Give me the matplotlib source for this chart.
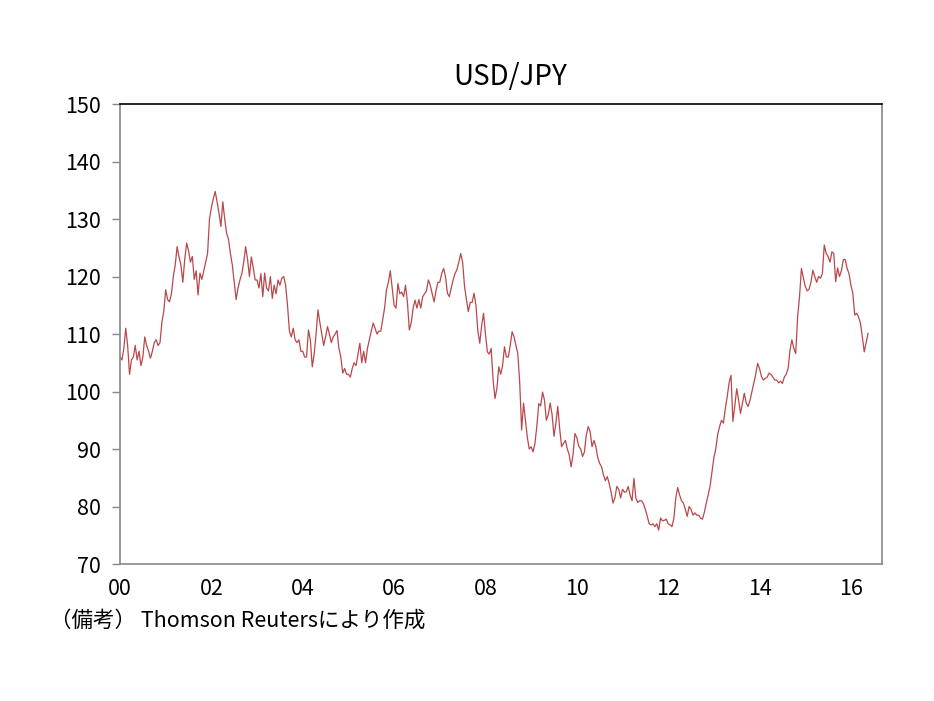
import matplotlib
matplotlib.use("Agg")
import matplotlib.pyplot as plt
import numpy as np

plt.rcParams['font.family'] = ['Noto Sans CJK JP', 'DejaVu Sans']

# USD/JPY, semi-monthly readings (24 per year), 2000 - May 2016
y2000 = [106, 105.5, 107.5, 111, 108, 103, 105.5, 106, 108, 105.5, 107, 104.5,
         106, 109.5, 108, 107, 105.8, 107, 108.5, 109, 108, 108.5, 112, 114]
y2001 = [117.7, 116, 115.6, 117, 120, 122, 125.2, 123.4, 122, 119, 123, 125.8,
         124.5, 122.5, 123.5, 119.5, 121, 116.8, 120.6, 119.5, 121, 122.5, 124, 130]
y2002 = [132, 133.5, 134.8, 133, 131, 128.7, 133, 130, 127.5, 126.5, 124, 122,
         119, 116, 118, 119.4, 120.5, 122.5, 125.2, 123, 120, 123.4, 121.5, 119.4]
y2003 = [119.4, 118, 120.5, 116.5, 120.6, 118, 117.5, 120, 116.2, 118.5, 117, 119.4,
         118.5, 119.7, 120, 118.5, 115, 110.5, 109.5, 111, 109, 108.5, 109, 107]
y2004 = [107, 106, 106, 110.7, 109, 104.3, 106.5, 110, 114.2, 112, 110, 108,
         109.5, 111.3, 110, 108.5, 109.5, 110, 110.6, 107.5, 106, 103.2, 104, 103]
y2005 = [103, 102.5, 104, 105, 104.5, 106.5, 108.4, 105, 107, 105, 107.5, 109,
         110.5, 111.9, 111, 110, 110.5, 110.5, 112.5, 114.5, 117.7, 119, 121, 118]
y2006 = [115, 114.5, 118.8, 117, 117.3, 116.5, 118.5, 115.5, 110.7, 112, 114.5, 115.9,
         114.5, 116, 114.5, 116.5, 117, 117.5, 119.4, 118.5, 117, 115.6, 117.5, 119]
y2007 = [119, 120.5, 121.4, 120, 117.1, 116.5, 118, 119.4, 120.5, 121.2, 122.5, 124,
         122.5, 118.3, 116, 113.9, 115.5, 115.5, 117.1, 115, 110.5, 108.4, 111.5, 113.6]
y2008 = [110, 106.9, 106.5, 107.5, 102, 98.8, 100.5, 104.3, 103, 104.5, 107.8, 106,
         106, 108, 110.4, 109.5, 108, 106.6, 101.5, 93.3, 98, 95, 92, 90]
y2009 = [90.4, 89.5, 91, 94, 97.9, 97.5, 99.9, 98.5, 95, 96, 98, 96,
         92.2, 94.5, 97.4, 93.5, 90.4, 91, 91.5, 90, 89, 86.9, 89, 92.7]
y2010 = [92, 90.5, 90, 88.7, 89.5, 92.5, 93.9, 93, 90.4, 91.5, 90.4, 88.5,
         87.5, 86.9, 85.5, 84.5, 85.2, 84, 82.5, 80.6, 81.5, 83.5, 83, 81.5]
y2011 = [83, 82.5, 82.6, 83.5, 82, 81, 84.9, 81.5, 80.7, 81, 81, 80.5,
         79.5, 78.3, 77, 76.8, 77, 76.5, 77, 75.9, 78, 77.5, 77.6, 77.8]
y2012 = [77, 76.8, 76.5, 78, 81.5, 83.3, 82, 81, 80.6, 79.5, 78.3, 80,
         79.5, 78.5, 78.9, 78.5, 78.5, 78, 77.8, 79, 80.6, 82, 83.5, 86]
y2013 = [88.5, 90, 92.5, 93.9, 95, 94.5, 97, 99.1, 101.5, 102.8, 94.8, 97.5,
         100.5, 98.5, 96.2, 98, 99.7, 98, 97.4, 98.5, 100, 101.5, 103, 104.9]
y2014 = [104, 102.6, 102, 102.3, 102.5, 103.2, 103, 102.5, 102, 102, 101.5, 101.8,
         101.4, 102.5, 103, 104, 107.2, 109, 107.5, 106.6, 113, 116.5, 121.4, 119.8]
y2015 = [118.3, 117.5, 117.8, 119, 121.1, 120, 119, 120, 119.7, 120.5, 125.5, 124,
         123.5, 122.5, 124.3, 124, 119.1, 121.5, 120, 121, 122.9, 123, 121.4, 120.5]
y2016 = [118.5, 117.1, 113.3, 113.6, 113, 111.9, 109.5, 106.9, 108.5, 110.1]

rate = np.array(y2000 + y2001 + y2002 + y2003 + y2004 + y2005 + y2006 + y2007 +
                y2008 + y2009 + y2010 + y2011 + y2012 + y2013 + y2014 + y2015 + y2016)
t = np.arange(len(rate)) / 24.0  # years since 2000

tick_years = [0, 2, 4, 6, 8, 10, 12, 14, 16]
tick_labels = ['00', '02', '04', '06', '08', '10', '12', '14', '16']

fig = plt.figure(figsize=(9.34, 7.01), dpi=100)
ax = fig.add_axes([0.1285, 0.1954, 0.8158, 0.6562])

ax.plot(t, rate, color='#b8484b', linewidth=0.9)

ax.set_xlim(0, 16.68)
ax.set_ylim(70, 150)
ax.set_yticks(range(70, 151, 10))
ax.set_xticks(tick_years)
ax.set_xticklabels(tick_labels)

ax.tick_params(axis='y', length=6, width=1, color='#888888', labelsize=15.5, pad=8)
ax.tick_params(axis='x', length=0, labelsize=15.5, pad=10)

for side in ['left', 'bottom', 'right']:
    ax.spines[side].set_color('#888888')
    ax.spines[side].set_linewidth(1.2)
ax.spines['top'].set_color('black')
ax.spines['top'].set_linewidth(1.2)

ax.set_title('USD/JPY', fontsize=20, pad=14, x=0.512)

fig.text(0.0535, 0.114, '（備考） Thomson Reutersにより作成', fontsize=15.5,
         ha='left', va='center')

fig.savefig('out.png', dpi=100)
